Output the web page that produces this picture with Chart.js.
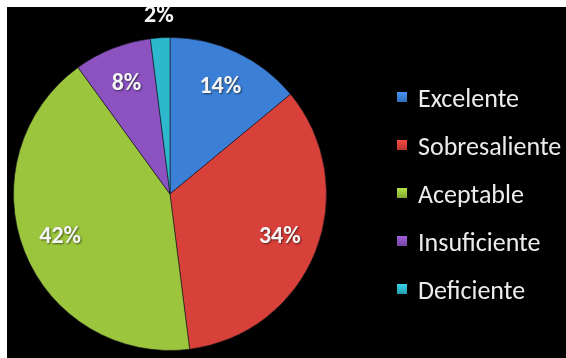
<!DOCTYPE html>
<html>
<head>
<meta charset="utf-8">
<script src="https://cdn.jsdelivr.net/npm/chart.js@4/dist/chart.umd.min.js"></script>
<style>
  html, body { margin: 0; padding: 0; background: #ffffff; }
  #wrap { position: absolute; left: 7px; top: 7px; width: 559px; height: 351px; background: #000000; }
  canvas { display: block; }
</style>
</head>
<body>
<div id="wrap"><canvas id="c" width="559" height="351"></canvas></div>
<script>
// Calificaciones: porcentaje de alumnos por nivel
const categories = ['Excelente', 'Sobresaliente', 'Aceptable', 'Insuficiente', 'Deficiente'];
const percentages = [14, 34, 42, 8, 2];
const sliceColors = ['#3b80d6', '#d8403a', '#9bc53c', '#8b52c0', '#2db8ce'];

function shade(hex, f) {
  const n = parseInt(hex.slice(1), 16);
  const ch = [(n >> 16) & 255, (n >> 8) & 255, n & 255].map(v => Math.max(0, Math.min(255, Math.round(v * f))));
  return 'rgb(' + ch.join(',') + ')';
}

// radial shading per slice: slightly darker at the centre, brighter toward the rim, soft dark edge
function sliceFill(ctx) {
  const chart = ctx.chart;
  const base = sliceColors[ctx.dataIndex];
  const meta = chart.getDatasetMeta(0);
  const arc = meta.data[ctx.dataIndex];
  if (!arc || !chart.chartArea) return base;
  const { x, y, outerRadius } = arc.getProps(['x', 'y', 'outerRadius'], true);
  if (!outerRadius) return base;
  const g = chart.ctx.createRadialGradient(x, y, 0, x, y, outerRadius);
  g.addColorStop(0, shade(base, 0.9));
  g.addColorStop(0.85, shade(base, 1.0));
  g.addColorStop(0.96, shade(base, 1.08));
  g.addColorStop(1, shade(base, 0.55));
  return g;
}

const FONT = 'Carlito, Lato, "Open Sans", sans-serif';

// percentage labels placed on each slice (small slices sit just outside the rim)
const sliceLabels = {
  id: 'sliceLabels',
  afterDatasetsDraw(chart) {
    const ctx = chart.ctx;
    const meta = chart.getDatasetMeta(0);
    const values = chart.data.datasets[0].data;
    const total = values.reduce((a, b) => a + b, 0);
    ctx.save();
    ctx.font = 'bold 24px ' + FONT;
    ctx.fillStyle = '#f4f4f4';
    ctx.textAlign = 'center';
    ctx.textBaseline = 'middle';
    ctx.shadowColor = 'rgba(0,0,0,0.55)';
    ctx.shadowBlur = 2;
    ctx.shadowOffsetX = 1;
    ctx.shadowOffsetY = 1;
    meta.data.forEach((arc, i) => {
      const p = arc.getProps(['x', 'y', 'startAngle', 'endAngle', 'outerRadius'], true);
      const mid = (p.startAngle + p.endAngle) / 2;
      const share = values[i] / total;
      const r = share < 0.05 ? p.outerRadius + 22 : p.outerRadius * 0.755;
      ctx.fillText(values[i] + '%', p.x + Math.cos(mid) * r, p.y + Math.sin(mid) * r);
    });
    ctx.restore();
  }
};

// legend column on the right
const sideLegend = {
  id: 'sideLegend',
  afterDraw(chart) {
    const ctx = chart.ctx;
    const labels = chart.data.labels;
    const colors = sliceColors;
    const boxX = 390, textX = 411, firstY = 90, step = 48, box = 10;
    ctx.save();
    ctx.font = '26px ' + FONT;
    ctx.textAlign = 'left';
    ctx.textBaseline = 'alphabetic';
    labels.forEach((lab, i) => {
      const cy = firstY + i * step;
      const g = ctx.createLinearGradient(0, cy - box / 2, 0, cy + box / 2);
      g.addColorStop(0, shade(colors[i], 1.15));
      g.addColorStop(1, shade(colors[i], 0.85));
      ctx.fillStyle = g;
      ctx.fillRect(boxX, cy - box / 2, box, box);
      ctx.fillStyle = '#ececec';
      ctx.fillText(lab, textX, cy + 10);
    });
    ctx.restore();
  }
};

new Chart(document.getElementById('c'), {
  type: 'pie',
  data: {
    labels: categories,
    datasets: [{
      data: percentages,
      backgroundColor: sliceFill,
      borderColor: 'rgba(20,20,30,0.6)',
      borderWidth: 1
    }]
  },
  options: {
    responsive: false,
    animation: false,
    layout: { padding: { top: 30, bottom: 7, left: 6, right: 239 } },
    plugins: {
      legend: { display: false },
      tooltip: { enabled: false }
    }
  },
  plugins: [sliceLabels, sideLegend]
});
</script>
</body>
</html>
